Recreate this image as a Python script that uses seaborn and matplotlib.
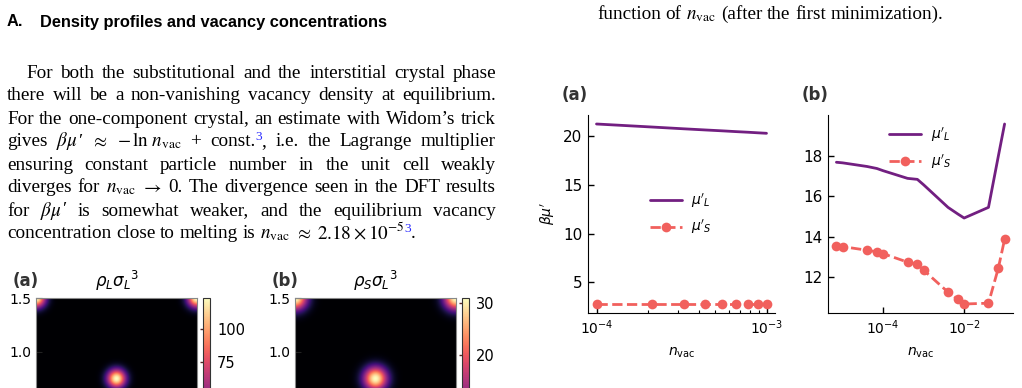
import re
import numpy as np
import matplotlib
matplotlib.use('Agg')
import matplotlib.pyplot as plt
import seaborn as sns
from matplotlib.transforms import IdentityTransform
from matplotlib.ticker import FixedLocator, NullLocator, NullFormatter

W, H = 1022, 388

# ---- data ----
n_vac_a = [1.0e-4, 2.125e-4, 3.25e-4, 4.375e-4, 5.5e-4, 6.625e-4, 7.75e-4, 8.875e-4, 1.0e-3]
mu_L_a = [21.2, 20.89, 20.71, 20.59, 20.50, 20.42, 20.36, 20.30, 20.25]
mu_S_a = [2.8, 2.8, 2.8, 2.8, 2.8, 2.8, 2.8, 2.8, 2.8]

n_vac_b = [7e-6, 1e-5, 4e-5, 7e-5, 1e-4, 4e-4, 7e-4, 1e-3, 4e-3, 7e-3, 1e-2, 4e-2, 7e-2, 1e-1]
mu_L_b = [17.70, 17.67, 17.49, 17.39, 17.28, 16.90, 16.85, 16.58, 15.46, 15.13, 14.93, 15.46, 18.0, 19.6]
mu_S_b = [13.54, 13.51, 13.33, 13.25, 13.16, 12.74, 12.64, 12.34, 11.25, 10.89, 10.66, 10.70, 12.44, 13.87]

# density peaks of the unit-cell slice (corners + centre)
peak_x = [0.0, 1.5, 0.0, 1.5, 0.75]
peak_y = [0.0, 0.0, 1.5, 1.5, 0.75]
rho_L_max, rho_L_width = 124.0, 0.062
rho_S_max, rho_S_width = 31.0, 0.078

heading = ["A.", "Density profiles and vacancy concentrations"]
body_lines = [
    "For both the substitutional and the interstitial crystal phase",
    "there will be a non-vanishing vacancy density at equilibrium.",
    "For the one-component crystal, an estimate with Widom’s trick",
    r"gives $\beta\mu$′ $\approx$ $-\,\ln\,n_{\rm vac}$ + const.^3, i.e. the Lagrange multiplier",
    "ensuring constant particle number in the unit cell weakly",
    r"diverges for $n_{\rm vac}$ $\rightarrow$ 0. The divergence seen in the DFT results",
    r"for $\beta\mu$′ is somewhat weaker, and the equilibrium vacancy",
    r"concentration close to melting is $n_{\rm vac}$ $\approx$ $2.18\times10^{-5}$^3.",
]
top_line = r"function of $n_{\rm vac}$ (after the first minimization)."

liq_c, sol_c = sns.color_palette("magma", 2)

sns.set_style("ticks", {"xtick.direction": "in", "ytick.direction": "in"})
plt.rcParams['font.family'] = ['DejaVu Sans']
plt.rcParams['text.color'] = 'black'
plt.rcParams['axes.labelcolor'] = 'black'
plt.rcParams['xtick.color'] = 'black'
plt.rcParams['ytick.color'] = 'black'
plt.rcParams['axes.edgecolor'] = 'black'

fig = plt.figure(figsize=(W / 100, H / 100), dpi=100)
rend = fig.canvas.get_renderer()


def px_axes(left, top, width, height):
    return fig.add_axes([left / W, 1 - (top + height) / H, width / W, height / H])


BODY = dict(family='Liberation Serif', size=13.8, math_fontfamily='stix', color='black')


def place_line(line, x0, x1, base, justify=True, style=BODY):
    arts, glue = [], []
    for m in re.finditer(r"\^\d|\$[^$]*\$|[^\s$^]+", line):
        tok = m.group(0)
        glued = m.start() > 0 and line[m.start() - 1] != ' '
        kw = dict(style)
        dy = 0
        if tok.startswith('^'):
            tok = tok[1:]
            kw['size'] = style['size'] * 0.7
            kw['color'] = '#2a2aff'
            dy = 6.5
            glued = True
        t = fig.text(0, H - base + dy, tok, transform=IdentityTransform(),
                     ha='left', va='baseline', **kw)
        arts.append(t)
        glue.append(glued)
    widths = [t.get_window_extent(rend).width for t in arts]
    ngap = sum(1 for g in glue[1:] if not g)
    gap = (x1 - x0 - sum(widths)) / ngap if justify else style['size'] * 1.389 * 0.25
    x = x0
    for i, (t, w) in enumerate(zip(arts, widths)):
        if i > 0 and not glue[i]:
            x += gap
        t.set_x(x)
        x += w


# ---- left column text ----
hs = dict(family='Liberation Sans', weight='bold', size=11.8, color='black')
fig.text(7, H - 26.5, heading[0], transform=IdentityTransform(), va='baseline', **hs)
fig.text(40, H - 26.5, heading[1], transform=IdentityTransform(), va='baseline', **hs)

bases = [77.5, 100.5, 123.5, 146.5, 169.5, 192.5, 215.5, 238.5]
for i, (line, b) in enumerate(zip(body_lines, bases)):
    x0 = 26 if i == 0 else 7
    place_line(line, x0, 496, b, justify=(i < len(body_lines) - 1))

place_line(top_line, 597, 956, 19, justify=False)

# ---- density maps ----
gx = np.linspace(0, 1.5, 301)
XX, YY = np.meshgrid(gx, gx)


def density(amp, width):
    rho = np.zeros_like(XX)
    for px, py in zip(peak_x, peak_y):
        rho += amp * np.exp(-((XX - px) ** 2 + (YY - py) ** 2) / (2 * width ** 2))
    return rho


maps = [
    (36, 203, density(rho_L_max, rho_L_width), rho_L_max, [75, 100], '(a)', r'$\rho_L\sigma_L{}^3$', 13),
    (295, 462, density(rho_S_max, rho_S_width), rho_S_max, [20, 30], '(b)', r'$\rho_S\sigma_L{}^3$', 272),
]
for left, cleft, rho, vmax, cticks, tag, ttl, tagx in maps:
    ax = px_axes(left, 298, 161, 161)
    im = ax.imshow(rho, extent=[0, 1.5, 0, 1.5], origin='lower', cmap='magma',
                   vmin=0, vmax=vmax, aspect='auto')
    ax.set_yticks([1.0, 1.5])
    ax.set_xticks([])
    ax.tick_params(labelsize=10, length=4, color='#222222')
    for s in ax.spines.values():
        s.set_color('#888888')
    ax.set_title(ttl, fontsize=12, pad=8)
    fig.text(tagx, H - 286, tag, transform=IdentityTransform(), fontsize=12,
             fontweight='bold', color='#333333', va='baseline')
    cax = px_axes(cleft, 298, 7, 161)
    cb = fig.colorbar(im, cax=cax)
    cb.set_ticks(cticks)
    cax.tick_params(labelsize=10.5, length=7, width=1, direction='in', color='#552222', pad=5)
    cb.outline.set_edgecolor('#333333')

# ---- beta mu' vs n_vac ----
ax_a = px_axes(588, 115, 187, 198)
ax_b = px_axes(828, 115, 185, 198)

for ax, n, mL, mS in [(ax_a, n_vac_a, mu_L_a, mu_S_a), (ax_b, n_vac_b, mu_L_b, mu_S_b)]:
    sns.lineplot(x=n, y=mL, ax=ax, color=liq_c, lw=2, label=r"$\mu'_L$")
    sns.lineplot(x=n, y=mS, ax=ax, color=sol_c, lw=2, linestyle='--', marker='o',
                 markersize=7, markeredgewidth=0, label=r"$\mu'_S$")
    ax.set_xscale('log')
    sns.despine(ax=ax)
    ax.tick_params(length=4.5, width=1, direction='in', pad=4)
    ax.tick_params(axis='x', labelsize=10)
    ax.tick_params(axis='y', labelsize=11)
    ax.tick_params(which='minor', length=2.5, width=0.8, direction='in')
    ax.set_xlabel(r'$n_{\rm vac}$', fontsize=10)
    ax.xaxis.set_label_coords(0.5, -0.165)

ax_a.xaxis.set_major_locator(FixedLocator([1e-4, 1e-3]))
ax_a.xaxis.set_minor_locator(FixedLocator([2e-4, 3e-4, 4e-4, 5e-4, 6e-4, 7e-4, 8e-4, 9e-4]))
ax_a.xaxis.set_minor_formatter(NullFormatter())
ax_a.set_yticks([5, 10, 15, 20])
ax_a.set_ylabel(r"$\beta\mu'$", fontsize=10)
ax_a.yaxis.set_label_coords(-0.165, 0.5)

ax_b.xaxis.set_major_locator(FixedLocator([1e-4, 1e-2]))
ax_b.xaxis.set_minor_locator(NullLocator())
ax_b.set_yticks([12, 14, 16, 18])

ax_a.legend(loc='center left', bbox_to_anchor=(0.33, 0.5), frameon=False, fontsize=10,
            handlelength=2.3, handletextpad=0.7, labelspacing=0.6, borderpad=0, borderaxespad=0)
ax_b.legend(loc='upper left', bbox_to_anchor=(0.33, 0.945), frameon=False, fontsize=10,
            handlelength=2.3, handletextpad=0.7, labelspacing=0.6, borderpad=0, borderaxespad=0)

for ax, tag in [(ax_a, '(a)'), (ax_b, '(b)')]:
    ax.text(-0.14, 1 + 11 / 198, tag, transform=ax.transAxes, fontsize=12,
            fontweight='bold', color='#333333', va='bottom', ha='left')

fig.savefig('out.png', dpi=100)
